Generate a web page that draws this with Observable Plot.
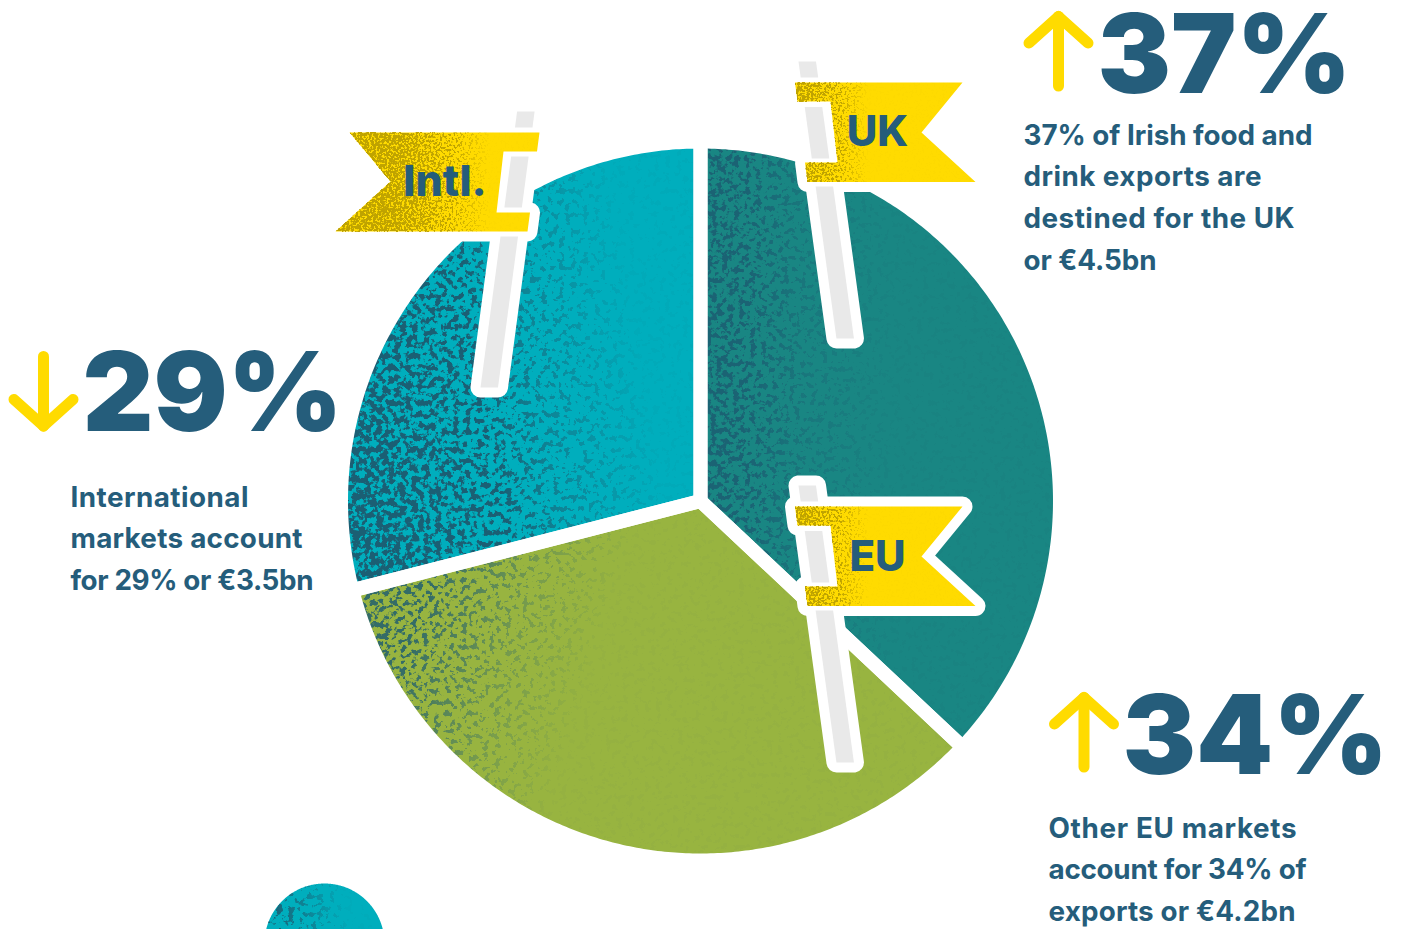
<!DOCTYPE html>
<html>
<head>
<meta charset="utf-8">
<script src="https://cdn.jsdelivr.net/npm/d3@7"></script>
<script src="https://cdn.jsdelivr.net/npm/@observablehq/plot@0.6"></script>
<style>
html,body{margin:0;padding:0;background:#fff;overflow:hidden}
svg{display:block}
</style>
</head>
<body>
<div id="chart"></div>
<script>
// ---- data ----
const markets = ["UK", "EU", "Intl."];
const shares = [37, 34, 29];
const flagLabels = ["UK", "EU", "Intl."];
const bigLabels = ["37%", "34%", "29%"];
const captions = [
  ["37% of Irish food and", "drink exports are", "destined for the UK", "or €4.5bn"],
  ["Other EU markets", "account for 34% of", "exports or €4.2bn"],
  ["International", "markets account", "for 29% or €3.5bn"]
];
const directions = ["up", "up", "down"];

// ---- palette and layout ----
const navy = "#255d7b", yellow = "#ffdb00", grey = "#e9e9e9";
const sliceColors = ["#198683", "#98b440", "#00aebd"];
const W = 1401, H = 929;
const cx = 700, cy = 500.5, R = 359.5, gap = 14;
const fontBody = "Inter, Lato, sans-serif";
const captionWidths = [[289, 238, 271, 133], [248, 258, 247], [178, 232, 243]];

const pieAngles = d3.pie().sort(null)(shares);
function sector(a0, a1, r, x0, y0, withCentre = true) {
  const n = Math.ceil((a1 - a0) / 0.01);
  const pts = withCentre ? [[x0, y0]] : [];
  for (let i = 0; i <= n; i++) {
    const a = a0 + (a1 - a0) * i / n;
    pts.push([x0 + r * Math.sin(a), y0 - r * Math.cos(a)]);
  }
  if (withCentre) pts.push([x0, y0]);
  return pts;
}
const slices = pieAngles.map(p => sector(p.startAngle, p.endAngle, R, cx, cy));
const blob = sector(-Math.PI / 2, Math.PI / 2, 60, 324, 943, false);

const poly = (pts, o) => Plot.line(pts, {x: d => d[0], y: d => d[1], stroke: "none", ...o});

// flag outlines (with the window the pole shows through) and poles
const poleW = 17.5;
const seg = (fx, y0, y1) => [[fx(y0),y0],[fx(y0)+poleW,y0],[fx(y1)+poleW,y1],[fx(y1),y1],[fx(y0),y0]];
const fxR = y => 798 + (y - 61) * 0.137;
const fxL = y => 516.6 - (y - 111) * 0.1326;
const flagRight = [[794.5,82],[962,82],[921,132],[975,181.5],[807,181.5],[804.5,162],[837,162],[830,101],[797,101],[794.5,82]];
const flagLeft = [[539,132],[349,132],[390,181],[335,231],[527,231],[529.5,212],[496,212],[503,151],[536.5,151],[539,132]];
const shift = (pts, dy) => pts.map(([x, y]) => [x, y + dy]);

const flags = [
  {outline: flagRight, pole: seg(fxR, 61, 338), parts: [seg(fxR, 61, 77), seg(fxR, 106.5, 158), seg(fxR, 186, 338)], grad: "flagGradRight"},
  {outline: shift(flagRight, 424), pole: shift(seg(fxR, 61, 338), 424), parts: [seg(fxR, 61, 77), seg(fxR, 106.5, 158), seg(fxR, 186, 338)].map(p => shift(p, 424)), grad: "flagGradRight"},
  {outline: flagLeft, pole: seg(fxL, 111, 387), parts: [seg(fxL, 111, 127), seg(fxL, 156, 207), seg(fxL, 236, 387)], grad: "flagGradLeft"}
];

function flagMarks(f) {
  return [
    poly(f.pole, {fill: "white", stroke: "white", strokeWidth: 20, strokeLinejoin: "round"}),
    poly(f.outline, {fill: "white", stroke: "white", strokeWidth: 20, strokeLinejoin: "round"}),
    poly(f.outline, {fill: yellow}),
    poly(f.outline, {fill: `url(#${f.grad})`, imageFilter: "url(#grainOlive)"}),
    ...f.parts.map(p => poly(p, {fill: grey}))
  ];
}

// text tables
const flagText = [
  {t: flagLabels[0], x: 877, y: 132, size: 42},
  {t: flagLabels[1], x: 877, y: 557, size: 42},
  {t: flagLabels[2], x: 444.5, y: 182, size: 43}
];
const bigText = [
  {t: bigLabels[0], x: 1097, y: 92},
  {t: bigLabels[1], x: 1122, y: 773},
  {t: bigLabels[2], x: 82, y: 430}
];
const captionOrigins = [
  {x: 1023, y: 144, step: 41.8},
  {x: 1048, y: 837, step: 41.8},
  {x: 70, y: 506, step: 41.8}
];
const captionRows = captions.flatMap((lines, i) => lines.map((t, j) => ({
  t, x: captionOrigins[i].x, y: captionOrigins[i].y + j * captionOrigins[i].step, w: captionWidths[i][j]
})));

// arrows
const arrowAt = [{x: 1058, y: 16}, {x: 1083.5, y: 697}, {x: 43, y: 425.5}];
const arrowPaths = directions.flatMap((dir, i) => {
  const s = dir === "up" ? 1 : -1, a = arrowAt[i];
  const shaft = [[a.x, a.y], [a.x, a.y + s * 69.5]];
  const head = [[a.x - 29.5, a.y + s * 26.5], [a.x, a.y], [a.x + 29.5, a.y + s * 26.5]];
  return [shaft.map(p => [...p, `s${i}`]), head.map(p => [...p, `h${i}`])].flat();
});

const chart = Plot.plot({
  width: W, height: H,
  marginTop: 0, marginRight: 0, marginBottom: 0, marginLeft: 0,
  x: {domain: [0, W], range: [0, W], axis: null},
  y: {domain: [0, H], range: [0, H], axis: null},
  style: {background: "white", overflow: "hidden"},
  marks: [
    ...slices.map((s, i) => poly(s, {fill: sliceColors[i]})),
    poly(blob, {fill: sliceColors[2]}),
    poly(slices[0], {fill: "url(#gradUK)", imageFilter: "url(#grainNavySoft)"}),
    poly(slices[1], {fill: "url(#gradEU)", imageFilter: "url(#grainNavySoft)"}),
    poly(slices[2], {fill: "url(#gradIntl)", imageFilter: "url(#grainNavy)"}),
    poly(blob, {fill: "url(#gradBlob)", imageFilter: "url(#grainNavy)"}),
    ...slices.map(s => poly(s, {stroke: "white", strokeWidth: gap, strokeLinejoin: "miter", strokeMiterlimit: 4, fill: "none"})),
    ...flags.flatMap(flagMarks),
    Plot.text(flagText, {x: "x", y: "y", text: "t", fontSize: "size", fontWeight: 800, fontFamily: fontBody, fill: navy, textAnchor: "middle", lineAnchor: "middle"}),
    Plot.line(arrowPaths, {x: d => d[0], y: d => d[1], z: d => d[2], stroke: yellow, strokeWidth: 11, strokeLinecap: "round", strokeLinejoin: "round"}),
    Plot.text(bigText, {x: "x", y: "y", text: "t", fontSize: 110, fontWeight: 900, fontFamily: fontBody, fill: navy, textAnchor: "start", lineAnchor: "bottom"}),
    Plot.text(captionRows, {x: "x", y: "y", text: "t", fontSize: 27.8, fontWeight: 700, fontFamily: fontBody, fill: navy, textAnchor: "start", lineAnchor: "bottom", className: "cap"})
  ]
});

// fit each caption line to the measured width
d3.select(chart).selectAll(".cap text").attr("textLength", (d, i) => captionRows[i].w);

// gradients & speckle filters
const defs = d3.select(chart).insert("defs", ":first-child");
function grad(id, x1, y1, x2, y2, stops) {
  const g = defs.append("linearGradient").attr("id", id).attr("gradientUnits", "userSpaceOnUse")
    .attr("x1", x1).attr("y1", y1).attr("x2", x2).attr("y2", y2);
  stops.forEach(([o, a]) => g.append("stop").attr("offset", o).attr("stop-color", "#000").attr("stop-opacity", a));
}
grad("gradUK", 705, 400, 895, 400, [[0, .66], [.2, .42], [.5, .18], [1, .02]]);
grad("gradEU", 362, 600, 590, 670, [[0, .7], [.3, .36], [.65, .14], [1, .01]]);
grad("gradIntl", 350, 470, 650, 420, [[0, .88], [.3, .58], [.65, .22], [1, .02]]);
grad("gradBlob", 264, 915, 345, 900, [[0, .42], [1, .01]]);
grad("flagGradRight", 795, 0, 868, 0, [[0, 1], [.3, .7], [.65, .3], [1, .01]]);
grad("flagGradLeft", 395, 0, 490, 0, [[0, 1], [.3, .7], [.65, .3], [1, .01]]);

function grain(id, color, opacity, freq, seed, gain, blur) {
  const f = defs.append("filter").attr("id", id).attr("filterUnits", "userSpaceOnUse")
    .attr("x", 0).attr("y", 0).attr("width", W).attr("height", H)
    .attr("color-interpolation-filters", "sRGB");
  f.append("feTurbulence").attr("type", "fractalNoise").attr("baseFrequency", freq)
    .attr("numOctaves", 3).attr("seed", seed).attr("result", "t");
  f.append("feColorMatrix").attr("in", "t").attr("type", "matrix")
    .attr("values", "0 0 0 0 0  0 0 0 0 0  0 0 0 0 0  4.5 0 0 0 -1.75").attr("result", "n");
  f.append("feComposite").attr("in", "SourceAlpha").attr("in2", "n").attr("operator", "arithmetic")
    .attr("k1", 0).attr("k2", 1).attr("k3", 1).attr("k4", -1).attr("result", "m");
  f.append("feColorMatrix").attr("in", "m").attr("type", "matrix")
    .attr("values", `0 0 0 0 0  0 0 0 0 0  0 0 0 0 0  0 0 0 ${gain} 0`).attr("result", "g");
  f.append("feGaussianBlur").attr("in", "g").attr("stdDeviation", blur).attr("result", "soft");
  // keep the speckle inside the shape after the blur
  f.append("feComponentTransfer").attr("in", "SourceAlpha").attr("result", "solid")
    .append("feFuncA").attr("type", "linear").attr("slope", 400);
  f.append("feComposite").attr("in", "soft").attr("in2", "solid").attr("operator", "in").attr("result", "mask");
  f.append("feFlood").attr("flood-color", color).attr("flood-opacity", opacity).attr("result", "c");
  f.append("feComposite").attr("in", "c").attr("in2", "mask").attr("operator", "in");
}
grain("grainNavy", "#1c5a70", .95, 0.17, 5, 2.5, .7);
grain("grainNavySoft", "#1c5a70", .8, 0.18, 11, 2.5, .7);
grain("grainOlive", "#bfa300", 1, 0.45, 3, 3, .35);

document.getElementById("chart").append(chart);
</script>
</body>
</html>
